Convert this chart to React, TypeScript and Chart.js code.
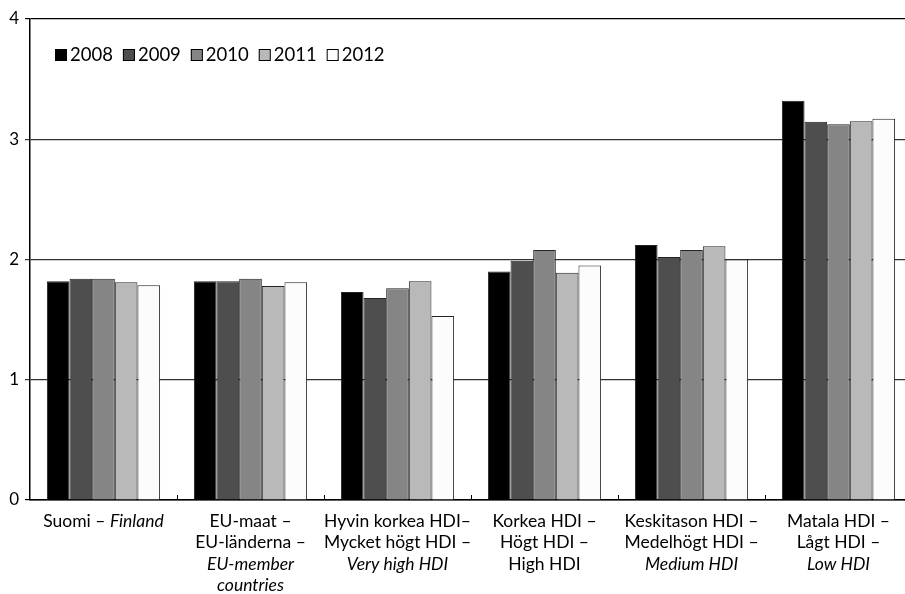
import React, { useEffect, useRef } from "react";
import { Chart, registerables } from "chart.js";

Chart.register(...registerables);

// ---- data ----
const categories = [
  "Suomi – Finland",
  "EU-maat – EU-länderna – EU-member countries",
  "Hyvin korkea HDI– Mycket högt HDI – Very high HDI",
  "Korkea HDI – Högt HDI – High HDI",
  "Keskitason HDI – Medelhögt HDI – Medium HDI",
  "Matala HDI – Lågt HDI – Low HDI",
];

// label lines: each line is a list of [text, italic]
const labelLines: [string, boolean][][][] = [
  [[["Suomi – ", false], ["Finland", true]]],
  [[["EU-maat –", false]], [["EU-länderna –", false]], [["EU-member", true]], [["countries", true]]],
  [[["Hyvin korkea HDI–", false]], [["Mycket högt HDI –", false]], [["Very high HDI", true]]],
  [[["Korkea HDI –", false]], [["Högt HDI –", false]], [["High HDI", false]]],
  [[["Keskitason HDI –", false]], [["Medelhögt HDI –", false]], [["Medium HDI", true]]],
  [[["Matala HDI –", false]], [["Lågt HDI –", false]], [["Low HDI", true]]],
];

const years = ["2008", "2009", "2010", "2011", "2012"];
const v2008 = [1.82, 1.82, 1.73, 1.9, 2.12, 3.32];
const v2009 = [1.84, 1.82, 1.68, 1.99, 2.02, 3.145];
const v2010 = [1.84, 1.84, 1.76, 2.08, 2.08, 3.125];
const v2011 = [1.81, 1.78, 1.82, 1.89, 2.11, 3.15];
const v2012 = [1.786, 1.81, 1.53, 1.95, 2.0, 3.17];
const yTicks = [0, 1, 2, 3, 4];

const seriesValues = [v2008, v2009, v2010, v2011, v2012];
const seriesColors = ["#000000", "#4e4e4e", "#858585", "#b9b9b9", "#fcfcfc"];

const FONT = "Lato";

const xLabelPlugin = {
  id: "xLabels",
  afterDraw(chart: any) {
    const ctx = chart.ctx;
    const xs = chart.scales.x;
    const area = chart.chartArea;
    ctx.save();
    ctx.fillStyle = "#000";
    ctx.textBaseline = "middle";
    ctx.textAlign = "left";
    labelLines.forEach((lines, i) => {
      const cx = xs.getPixelForValue(i);
      lines.forEach((segs, k) => {
        const y = area.bottom + 21 + k * 21.5;
        let total = 0;
        const widths = segs.map(([t, it]) => {
          ctx.font = `${it ? "italic " : ""}17.5px ${FONT}`;
          const w = ctx.measureText(t).width;
          total += w;
          return w;
        });
        let x = cx - total / 2;
        segs.forEach(([t, it], j) => {
          ctx.font = `${it ? "italic " : ""}17.5px ${FONT}`;
          ctx.fillText(t, x, y);
          x += widths[j];
        });
      });
    });
    // small inner tick marks at category boundaries
    ctx.strokeStyle = "#000";
    ctx.lineWidth = 1;
    for (let i = 0; i < categories.length - 1; i++) {
      const bx = (xs.getPixelForValue(i) + xs.getPixelForValue(i + 1)) / 2;
      ctx.beginPath();
      ctx.moveTo(Math.round(bx) + 0.5, area.bottom);
      ctx.lineTo(Math.round(bx) + 0.5, area.bottom - 5);
      ctx.stroke();
    }
    ctx.restore();
  },
};

const legendPlugin = {
  id: "innerLegend",
  afterDraw(chart: any) {
    const ctx = chart.ctx;
    ctx.save();
    ctx.font = `18.5px ${FONT}`;
    ctx.textBaseline = "middle";
    ctx.textAlign = "left";
    let x = 55;
    const y = 55;
    years.forEach((yr, i) => {
      ctx.fillStyle = seriesColors[i];
      ctx.fillRect(x, y - 6, 12, 12);
      ctx.strokeStyle = "#000";
      ctx.lineWidth = 1;
      ctx.strokeRect(x + 0.5, y - 5.5, 11, 11);
      ctx.fillStyle = "#000";
      ctx.fillText(yr, x + 15, y);
      x += 15 + ctx.measureText(yr).width + 10;
    });
    ctx.restore();
  },
};

export default function App() {
  const ref = useRef<HTMLCanvasElement | null>(null);
  useEffect(() => {
    if (!ref.current) return;
    const chart = new Chart(ref.current, {
      type: "bar",
      data: {
        labels: categories,
        datasets: years.map((yr, i) => ({
          label: yr,
          data: seriesValues[i],
          backgroundColor: seriesColors[i],
          borderColor: "#222",
          borderWidth: 1,
          categoryPercentage: 0.77,
          barPercentage: 1.0,
        })),
      },
      plugins: [xLabelPlugin, legendPlugin],
      options: {
        responsive: false,
        animation: false,
        layout: { padding: { top: 19, right: 8, left: 0, bottom: 0 } },
        plugins: { legend: { display: false }, tooltip: { enabled: false } },
        scales: {
          x: {
            grid: { display: false },
            ticks: { display: false },
            border: { display: true, color: "#000", width: 1.5 },
            afterFit: (s: any) => {
              s.height = 94;
            },
          },
          y: {
            min: 0,
            max: 4,
            afterBuildTicks: (s: any) => {
              s.ticks = yTicks.map((v) => ({ value: v }));
            },
            ticks: {
              color: "#000",
              font: { family: FONT, size: 17 },
              padding: 6,
            },
            grid: {
              color: (c: any) => (c.tick && (c.tick.value === 4 || c.tick.value === 0) ? "#000" : "#333"),
              lineWidth: 1.2,
              tickLength: 5,
            },
            border: { display: true, color: "#000", width: 1.5 },
            afterFit: (s: any) => {
              s.width = 30;
            },
          },
        },
      },
    });
    return () => chart.destroy();
  }, []);
  return (
    <div
      style={{
        position: "fixed",
        left: 0,
        top: 0,
        width: 905,
        height: 594,
        overflow: "hidden",
        background: "#fff",
      }}
    >
      <canvas ref={ref} width={920} height={594} style={{ display: "block" }} />
    </div>
  );
}
